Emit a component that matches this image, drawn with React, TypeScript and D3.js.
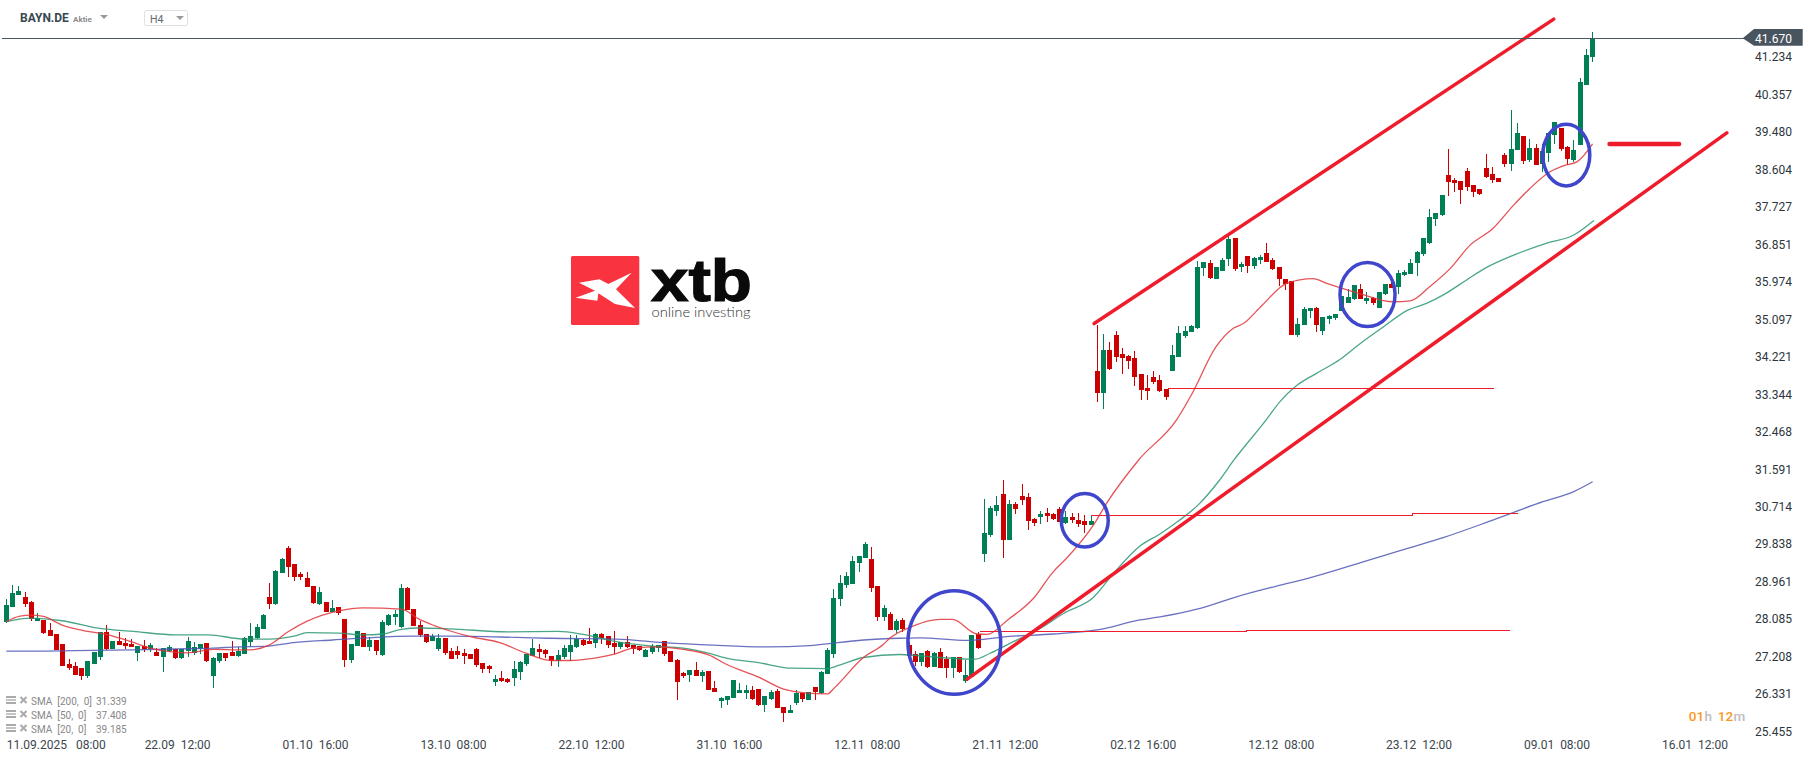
import React from "react";
import * as d3 from "d3";

const W = 1815, H = 761;
const FONT = "Roboto, sans-serif";

const GREEN = "#007f56";
const RED = "#cc0000";
const TREND = "#ef1c2c";
const CIRCLE = "#3f46cc";

const priceTicks = [41.234, 40.357, 39.48, 38.604, 37.727, 36.851, 35.974, 35.097, 34.221, 33.344, 32.468, 31.591, 30.714, 29.838, 28.961, 28.085, 27.208, 26.331, 25.455];
const lastPrice = 41.67;

const timeLabels = ["11.09.2025   08:00", "22.09  12:00", "01.10  16:00", "13.10  08:00", "22.10  12:00", "31.10  16:00", "12.11  08:00", "21.11  12:00", "02.12  16:00", "12.12  08:00", "23.12  12:00", "09.01  08:00", "16.01  12:00"];
const candlesPerLabel = 22;

// open, high, low, close per H4 candle
const candles: number[][] = [
[28.01,28.55,27.99,28.42],[28.38,28.89,28.38,28.70],[28.65,28.86,28.65,28.75],[28.61,28.73,28.36,28.45],[28.49,28.51,28.05,28.10],[28.04,28.22,28.04,28.11],[28.07,28.07,27.74,27.77],[27.83,27.99,27.69,27.69],[27.74,27.74,27.37,27.37],[27.51,27.51,26.99,26.99],
[27.04,27.15,26.90,26.94],[26.99,27.09,26.78,26.78],[26.94,26.94,26.66,26.76],[26.76,27.11,26.72,27.11],[27.04,27.33,27.04,27.33],[27.21,27.78,27.13,27.78],[27.79,27.95,27.37,27.38],[27.39,27.58,27.39,27.58],[27.58,27.79,27.48,27.48],[27.53,27.65,27.40,27.46],
[27.51,27.62,27.43,27.44],[27.30,27.46,27.12,27.46],[27.46,27.60,27.33,27.39],[27.40,27.52,27.33,27.48],[27.33,27.42,27.23,27.23],[27.20,27.41,26.86,27.41],[27.34,27.49,27.33,27.44],[27.39,27.39,27.15,27.18],[27.18,27.39,27.16,27.39],[27.34,27.67,27.21,27.58],
[27.30,27.56,27.25,27.44],[27.39,27.51,27.27,27.51],[27.53,27.53,27.09,27.11],[26.76,27.21,26.48,27.18],[27.11,27.30,27.07,27.30],[27.30,27.30,27.12,27.18],[27.32,27.58,27.23,27.23],[27.23,27.44,27.21,27.34],[27.27,27.66,27.27,27.65],[27.55,27.99,27.44,27.69],
[27.65,27.97,27.62,27.90],[27.86,28.21,27.86,28.19],[28.61,28.94,28.33,28.44],[28.44,29.24,28.42,29.21],[29.17,29.52,29.17,29.50],[29.75,29.80,29.08,29.31],[29.38,29.38,28.99,29.07],[29.14,29.18,29.00,29.07],[29.05,29.19,28.84,28.84],[28.86,28.86,28.43,28.46],
[28.44,28.84,28.42,28.72],[28.49,28.49,28.25,28.26],[28.26,28.54,28.26,28.35],[28.36,28.38,28.19,28.23],[28.09,28.09,26.97,27.13],[27.13,27.51,27.06,27.51],[27.46,27.81,27.46,27.81],[27.76,27.76,27.43,27.44],[27.44,27.67,27.34,27.60],[27.60,27.60,27.25,27.34],
[27.25,28.07,27.23,28.02],[27.95,28.21,27.93,28.19],[28.14,28.30,27.95,28.21],[27.90,28.91,27.88,28.82],[28.82,28.83,28.29,28.29],[28.33,28.33,27.93,27.93],[27.95,28.04,27.67,27.72],[27.74,27.74,27.53,27.55],[27.58,27.74,27.58,27.69],[27.39,27.73,27.34,27.65],
[27.65,27.65,27.25,27.30],[27.34,27.41,27.16,27.16],[27.34,27.46,27.16,27.25],[27.30,27.39,27.04,27.23],[27.27,27.27,27.16,27.16],[27.39,27.41,26.97,27.02],[27.06,27.06,26.83,26.92],[26.99,27.02,26.83,26.92],[26.62,26.78,26.52,26.69],[26.71,26.87,26.62,26.64],
[26.69,26.71,26.59,26.61],[26.71,27.11,26.52,26.92],[26.85,27.11,26.66,27.09],[27.04,27.27,26.99,27.27],[27.23,27.62,27.23,27.41],[27.39,27.51,27.18,27.32],[27.37,27.39,27.18,27.27],[27.23,27.23,26.99,27.12],[27.12,27.37,26.97,27.25],[27.20,27.48,27.16,27.41],
[27.32,27.72,27.11,27.48],[27.44,27.71,27.41,27.62],[27.60,27.62,27.46,27.48],[27.58,27.88,27.51,27.51],[27.53,27.76,27.41,27.74],[27.74,27.76,27.51,27.65],[27.69,27.69,27.41,27.48],[27.53,27.81,27.27,27.44],[27.44,27.55,27.39,27.55],[27.55,27.69,27.41,27.44],
[27.48,27.48,27.27,27.39],[27.46,27.46,27.34,27.37],[27.20,27.39,27.20,27.37],[27.32,27.51,27.27,27.46],[27.41,27.48,27.32,27.48],[27.58,27.58,27.23,27.27],[27.34,27.34,27.09,27.09],[27.13,27.16,26.20,26.62],[26.83,26.85,26.71,26.76],[26.78,26.90,26.62,26.90],
[26.90,27.09,26.76,26.76],[26.76,26.90,26.62,26.85],[26.87,26.87,26.43,26.43],[26.48,26.64,26.38,26.38],[26.17,26.27,26.01,26.24],[26.20,26.29,26.08,26.29],[26.24,26.66,26.24,26.66],[26.36,26.59,26.36,26.43],[26.36,26.55,26.22,26.43],[26.43,26.52,26.20,26.22],
[26.45,26.45,26.06,26.08],[26.08,26.29,25.92,26.29],[26.22,26.43,26.20,26.38],[26.41,26.45,26.01,26.01],[26.03,26.03,25.68,25.89],[25.89,26.08,25.89,25.96],[26.13,26.43,26.08,26.36],[26.36,26.36,26.15,26.22],[26.20,26.38,26.20,26.38],[26.50,26.50,26.20,26.38],
[26.36,26.87,26.34,26.85],[26.80,27.41,26.80,27.37],[27.27,28.79,27.18,28.58],[28.56,29.12,28.40,28.93],[28.89,29.19,28.82,29.10],[28.91,29.57,28.91,29.45],[29.40,29.57,29.19,29.57],[29.52,29.89,29.52,29.85],[29.50,29.78,28.72,28.82],[28.86,28.86,28.04,28.14],
[28.14,28.42,28.04,28.35],[28.21,28.26,27.83,27.83],[27.83,28.09,27.76,28.04],[28.07,28.11,27.79,27.86],[27.48,27.55,27.22,27.22],[27.27,27.34,26.99,27.08],[27.08,27.29,26.99,27.29],[27.34,27.36,26.94,26.97],[26.97,27.32,26.97,27.29],[27.32,27.41,26.94,26.94],
[27.15,27.22,26.71,26.94],[26.94,27.20,26.71,27.20],[27.20,27.20,26.83,26.85],[26.64,27.13,26.59,26.78],[26.74,27.71,26.74,27.71],[27.74,27.79,27.39,27.41],[29.61,30.90,29.42,30.10],[30.05,30.73,30.01,30.69],[30.62,30.97,30.50,30.76],[31.01,31.34,29.52,29.94],
[29.94,30.87,29.94,30.78],[30.78,30.83,30.55,30.66],[30.97,31.25,30.76,30.87],[30.94,31.04,30.17,30.38],[30.43,30.45,30.27,30.34],[30.48,30.62,30.31,30.55],[30.57,30.69,30.36,30.50],[30.55,30.57,30.41,30.43],[30.66,30.71,30.36,30.36],[30.34,30.62,30.31,30.48],
[30.48,30.57,30.34,30.41],[30.41,30.57,30.24,30.31],[30.38,30.52,30.10,30.29],[30.29,30.52,30.29,30.38],[33.89,34.96,33.16,33.37],[33.37,34.75,33.00,34.38],[34.38,34.57,33.91,33.93],[34.73,34.82,34.10,34.21],[34.28,34.42,33.82,34.19],[34.24,34.26,33.93,34.12],
[34.19,34.35,33.54,33.75],[33.82,33.82,33.21,33.44],[33.49,33.79,33.21,33.42],[33.75,33.89,33.58,33.63],[33.68,33.79,33.40,33.42],[33.47,33.47,33.21,33.28],[33.89,34.49,33.89,34.26],[34.21,34.94,34.21,34.78],[34.71,34.94,34.66,34.82],[34.80,34.96,34.80,34.94],
[34.89,36.46,34.87,36.32],[36.30,36.44,36.11,36.44],[36.41,36.48,36.04,36.06],[36.04,36.32,36.04,36.32],[36.23,36.53,36.23,36.48],[36.51,37.05,36.34,36.98],[37.00,37.00,36.23,36.27],[36.32,36.44,36.20,36.39],[36.58,36.58,36.18,36.34],[36.34,36.55,36.27,36.53],
[36.48,36.60,36.39,36.55],[36.65,36.88,36.44,36.44],[36.48,36.53,36.25,36.27],[36.32,36.32,35.88,36.04],[36.04,36.04,35.78,35.92],[35.99,35.99,34.73,34.73],[34.73,35.13,34.68,34.99],[34.96,35.38,34.96,35.34],[35.29,35.36,35.13,35.36],[35.36,35.38,34.80,34.96],
[34.82,35.15,34.73,35.15],[35.10,35.20,34.99,35.17],[35.13,35.22,35.08,35.22],[35.29,35.64,35.29,35.64],[35.48,35.81,35.48,35.62],[35.57,35.90,35.55,35.90],[35.81,35.92,35.57,35.57],[35.52,35.74,35.45,35.59],[35.59,35.62,35.43,35.48],[35.36,35.74,35.36,35.74],
[35.69,35.92,35.66,35.92],[35.92,36.02,35.83,35.83],[35.85,36.25,35.69,36.18],[36.13,36.25,36.11,36.20],[36.16,36.51,36.16,36.41],[36.41,36.70,36.11,36.67],[36.62,37.00,36.58,37.00],[36.88,37.68,36.86,37.49],[37.44,37.59,37.28,37.59],[37.54,38.01,37.51,38.01],
[38.47,39.08,37.98,38.31],[38.35,38.40,38.07,38.29],[38.33,38.33,37.79,38.12],[38.57,38.64,38.10,38.19],[38.24,38.24,37.96,38.08],[38.14,38.14,38.00,38.03],[38.64,38.96,38.40,38.43],[38.50,38.66,38.29,38.36],[38.40,38.40,38.31,38.31],[38.94,38.99,38.66,38.73],
[38.73,39.99,38.57,39.08],[39.06,39.69,39.06,39.46],[39.38,39.38,38.73,38.80],[38.82,39.31,38.78,39.10],[39.10,39.20,38.71,38.71],[38.73,39.21,38.54,39.03],[38.99,39.46,38.78,39.46],[39.41,39.71,39.21,39.71],[39.57,39.57,39.03,39.08],[39.13,39.15,38.71,38.85],
[38.82,39.29,38.78,39.06],[39.17,40.74,39.17,40.65],[40.58,41.42,40.58,41.28],[41.23,41.82,41.12,41.67],
];

// moving averages: [candle index, price]
const sma20: number[][] = [[0,28.03],[2.2,28.16],[3.9,28.18],[5.9,28.15],[8.9,27.95],[12.3,27.82],[15.9,27.73],[19.9,27.56],[22.9,27.41],[27,27.31],[28.9,27.30],[33,27.38],[37,27.37],[38.9,27.37],[41.9,27.48],[45,27.80],[48,28.04],[53,28.28],[56.9,28.35],[63,28.32],[65.9,28.08],[68,27.95],[70.8,27.81],[74,27.68],[78.7,27.54],[82.9,27.29],[86.9,27.12],[90,27.12],[93,27.16],[97,27.27],[100,27.41],[104,27.44],[108,27.38],[112,27.25],[115,27.02],[120,26.73],[124,26.45],[127,26.37],[131,26.34],[132,26.47],[136.7,27.19],[139.9,27.50],[140.9,27.64],[144.7,27.93],[148.9,28.08],[150.9,28.08],[154.8,27.74],[156.4,27.73],[159.8,28.08],[163.8,28.57],[167,29.20],[169.1,29.51],[173.4,30.29],[175.5,30.80],[180.6,31.81],[186.7,32.76],[189,33.33],[193,34.47],[195.7,34.89],[197.3,35.0],[200.3,35.43],[204.2,35.94],[208.4,36.05],[210.6,35.94],[215.9,35.70],[221.2,35.51],[223.9,35.53],[227,35.86],[230.3,36.29],[233.5,36.84],[237,37.21],[240.4,37.77],[243,38.16],[246.2,38.55],[248.3,38.69],[250.5,38.78],[253,39.2]];
const sma50: number[][] = [[0,28.03],[3.9,28.11],[8.9,28.05],[14.9,27.87],[20.3,27.80],[27,27.72],[32.2,27.72],[38,27.62],[41.9,27.62],[45.9,27.69],[48,27.77],[53,27.76],[56.9,27.72],[60,27.74],[63,27.85],[65.9,27.88],[70.8,27.86],[80,27.79],[88,27.80],[92,27.73],[97.3,27.56],[102.7,27.46],[108,27.41],[112,27.29],[115,27.17],[120,27.07],[125.2,26.94],[130.8,26.93],[133,27.02],[136.7,27.19],[142.5,27.26],[148.9,27.19],[154.5,27.15],[156.9,27.29],[160.6,27.56],[164.9,27.87],[168.6,28.22],[173.4,28.60],[176.6,29.16],[180.8,29.80],[184,30.08],[187.2,30.41],[190.1,30.76],[193.3,31.30],[195.8,31.81],[201,32.76],[203.1,33.17],[205.7,33.54],[208.9,33.83],[212.7,34.16],[215.9,34.53],[219.6,34.92],[223.6,35.32],[226.5,35.47],[229.2,35.67],[232.9,36.02],[235.8,36.29],[240.4,36.60],[245.7,36.88],[250,37.07],[253.2,37.41]];
const sma200: number[][] = [[0,27.34],[4.3,27.34],[10.7,27.35],[20.3,27.37],[27,27.39],[33,27.41],[37,27.44],[41,27.45],[45.8,27.54],[52,27.60],[57.5,27.65],[64.9,27.69],[70.8,27.69],[81.4,27.66],[86.7,27.64],[97.3,27.62],[104.8,27.54],[112.8,27.48],[121.3,27.44],[128.2,27.47],[136.7,27.60],[142.5,27.64],[145.8,27.65],[153.2,27.59],[159.6,27.68],[167,27.74],[174.5,27.85],[180.8,28.07],[184,28.14],[189.9,28.32],[196.2,28.61],[202.6,28.86],[208,29.06],[216,29.41],[223.9,29.76],[229.3,30.0],[237.2,30.41],[245.2,30.84],[250,31.07],[253,31.30]];

// hand-drawn annotations: [candle index, price] vertices
const channelUpper = [[173.5,35.0],[246.8,42.12]];
const channelLower = [[153.2,26.68],[274.4,39.46]];
const targetMark = [[255.7,39.2],[266.8,39.2]];
const levelA = [[185.3,33.49],[237.3,33.49]];
const levelB = [[173,30.52],[224.2,30.52],[224.2,30.56],[241.1,30.56]];
const levelC = [[155.3,27.80],[197.8,27.80],[197.8,27.83],[239.9,27.83]];
// cx index, cy price, rx in candles, ry in price
const circles = [[151.2,27.54,7.4,1.21],[172.0,30.40,3.75,0.625],[217.1,35.68,4.39,0.75],[248.8,38.94,3.75,0.72]];

const legendRows = [["SMA  [200,  0]", "31.339"], ["SMA  [50,  0]", "37.408"], ["SMA  [20,  0]", "39.185"]];

const logoMark = [[117,158],[178,148],[205,162],[275,128],[228,178],[285,234],[225,222],[175,190],[172,212],[107,203],[165,182]];

const x = d3.scaleLinear().domain([0, 253]).range([6.3, 6.3 + 253 * 6.27]);
const y = d3.scaleLinear().domain([25.455, 41.234]).range([731.7, 57]);
const line = d3.line<number[]>().x((d) => x(d[0])).y((d) => y(d[1]));
const smooth = d3.line<number[]>().x((d) => x(d[0])).y((d) => y(d[1])).curve(d3.curveMonotoneX);

function Candles() {
  return (
    <g shapeRendering="crispEdges">
      {candles.map(([o, h, l, c], i) => {
        const cx = Math.floor(x(i));
        const col = c >= o ? GREEN : RED;
        const top = Math.round(y(Math.max(o, c)));
        const bot = Math.round(y(Math.min(o, c)));
        const hi = Math.round(y(h));
        const lo = Math.round(y(l));
        return (
          <g key={i} fill={col}>
            <rect x={cx} y={hi} width={1} height={Math.max(1, lo - hi)} />
            <rect x={cx - 2} y={top} width={5} height={Math.max(1, bot - top)} />
          </g>
        );
      })}
    </g>
  );
}

function Logo() {
  const lx = (v: number) => 540 + v / 3;
  const ly = (v: number) => 230 + v / 3;
  return (
    <g>
      <rect x={571} y={256} width={68.3} height={69} rx={1.5} fill="#f93440" />
      <polygon points={logoMark.map((p) => `${lx(p[0])},${ly(p[1])}`).join(" ")} fill="#fff" />
      <text x={651} y={301} fontFamily="Liberation Sans, sans-serif" fontWeight={700} fontSize={60} textLength={101} lengthAdjust="spacingAndGlyphs" fill="#0a0a0a" stroke="#0a0a0a" strokeWidth={1.2}>xtb</text>
      <text x={651.5} y={317} fontFamily="Lato, sans-serif" fontSize={14} fontWeight={300} textLength={99} lengthAdjust="spacingAndGlyphs" fill="#333">online investing</text>
    </g>
  );
}

function Header() {
  return (
    <g fontFamily={FONT}>
      <text x={20} y={22} fontSize={12} fontWeight={700} fill="#37474f">BAYN.DE</text>
      <text x={73} y={22} fontSize={8} fontWeight={700} fill="#8c8c8c">Aktie</text>
      <polygon points="100,15 108,15 104,19" fill="#999" />
      <rect x={144.5} y={10.5} width={43} height={15} rx={2} fill="#fff" stroke="#e0e0e0" />
      <text x={150} y={23} fontSize={10.5} fill="#60696f">H4</text>
      <polygon points="176,16 184,16 180,20" fill="#999" />
    </g>
  );
}

function Legend() {
  return (
    <g fontFamily={FONT} fontSize={10} fill="#888">
      {legendRows.map((r, i) => {
        const cy = 701 + i * 14;
        return (
          <g key={i}>
            <rect x={6} y={cy - 5} width={10} height={2} fill="#aaa" />
            <rect x={6} y={cy - 2} width={10} height={2} fill="#c4c4c4" />
            <rect x={6} y={cy + 1} width={10} height={2} fill="#aaa" />
            <path d={`M20.5 ${cy - 4}L26.5 ${cy + 2}M26.5 ${cy - 4}L20.5 ${cy + 2}`} stroke="#aaa" strokeWidth={2} />
            <text x={31} y={cy + 3.5} style={{ whiteSpace: "pre" }}>{r[0]}</text>
            <text x={96} y={cy + 3.5}>{r[1]}</text>
          </g>
        );
      })}
    </g>
  );
}

export default function App() {
  const priceY = y(lastPrice);
  return (
    <svg width={W} height={H} viewBox={`0 0 ${W} ${H}`} style={{ position: "absolute", left: 0, top: 0, display: "block", background: "#fff" }}>
      <Logo />
      <Candles />
      <g fill="none" strokeWidth={1.3}>
        <path d={smooth(sma200)!} stroke="#5058b4" strokeOpacity={0.85} />
        <path d={smooth(sma50)!} stroke="#2a9672" strokeOpacity={0.85} />
        <path d={smooth(sma20)!} stroke="#e0353a" strokeOpacity={0.85} />
      </g>
      <g fill="none" stroke={TREND} strokeWidth={1} shapeRendering="crispEdges">
        <path d={line(levelA)!} />
        <path d={line(levelB)!} />
        <path d={line(levelC)!} />
      </g>
      <g fill="none" stroke={TREND}>
        <path d={line(channelUpper)!} strokeWidth={3.5} strokeLinecap="round" />
        <path d={line(channelLower)!} strokeWidth={3.5} strokeLinecap="round" />
        <path d={line(targetMark)!} strokeWidth={4.5} strokeLinecap="round" />
      </g>
      <g fill="none" stroke={CIRCLE} strokeWidth={3.5}>
        {circles.map((c, i) => (
          <ellipse key={i} cx={x(c[0])} cy={y(c[1])} rx={x(c[0] + c[2]) - x(c[0])} ry={y(c[1] - c[3]) - y(c[1])} />
        ))}
      </g>
      <line x1={2} x2={1745} y1={priceY} y2={priceY} stroke="#4a5861" strokeWidth={1} shapeRendering="crispEdges" />
      <Header />
      <Legend />
      <g fontFamily={FONT} fontSize={12} fill="#3c464d">
        {timeLabels.map((t, i) => (
          <text key={t} x={x(i * candlesPerLabel) + 0.4} y={748.5} style={{ whiteSpace: "pre" }}>{t}</text>
        ))}
      </g>
      <g fontFamily={FONT} fontSize={12} fill="#2c363c">
        {priceTicks.map((p) => (
          <text key={p} x={1755} y={y(p) + 4.2}>{p.toFixed(3)}</text>
        ))}
      </g>
      <polygon points={`1742.7,${priceY} 1754,29 1802.7,29 1802.7,45.7 1754,45.7`} fill="#48555f" />
      <text x={1755} y={priceY + 4.5} fontFamily={FONT} fontSize={12} fill="#fff">{lastPrice.toFixed(3)}</text>
      <text x={1688.7} y={720.5} fontFamily={FONT} fontSize={13.5} fontWeight={500} letterSpacing={0.2}>
        <tspan fill="#f7981d">01</tspan><tspan fill="#bdbdbd">h</tspan><tspan dx={5.5} fill="#f7981d">12</tspan><tspan fill="#bdbdbd">m</tspan>
      </text>
    </svg>
  );
}
